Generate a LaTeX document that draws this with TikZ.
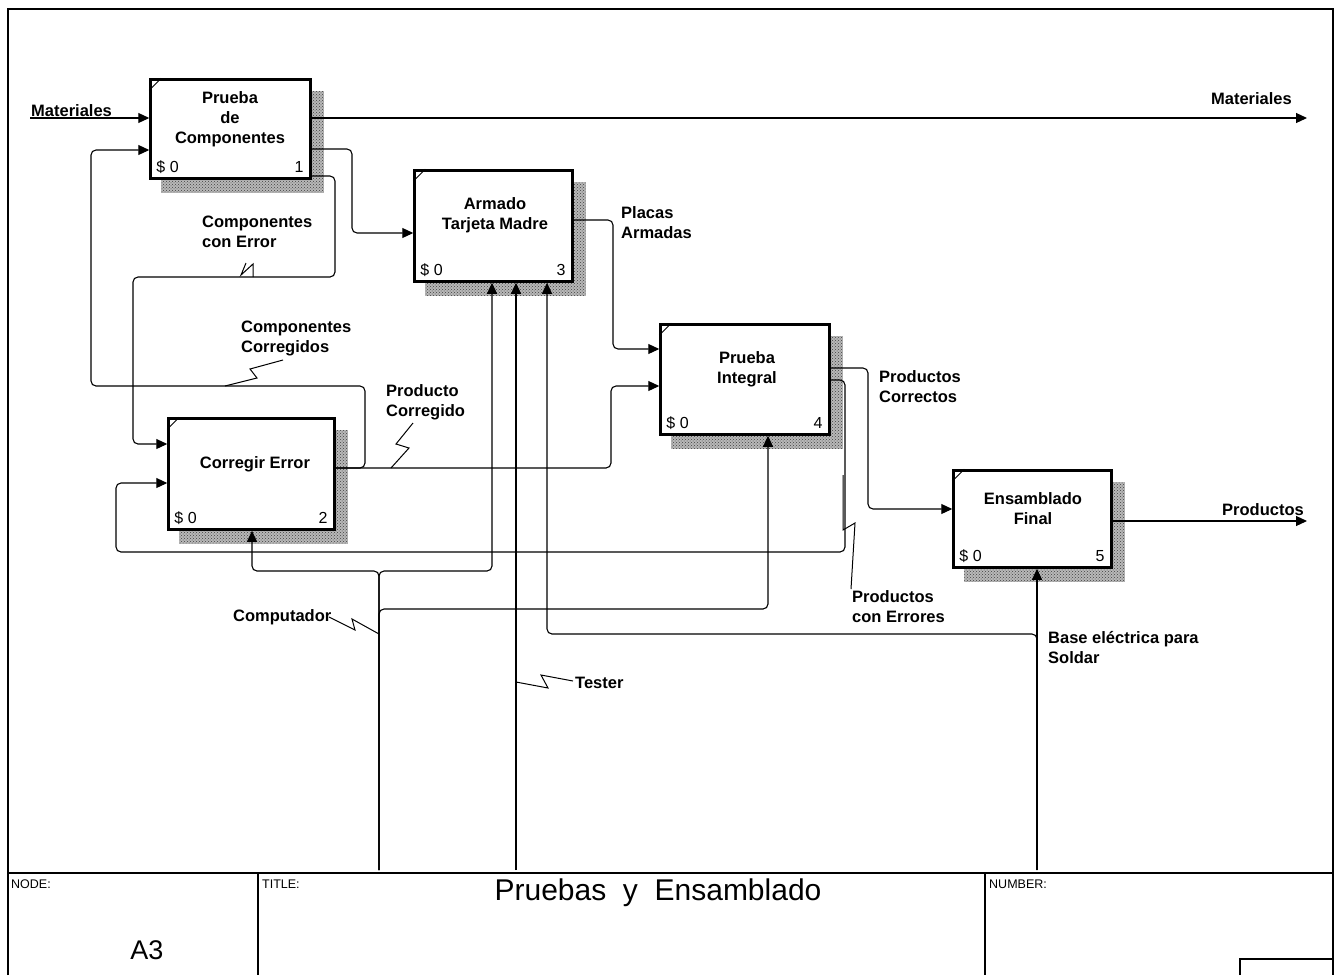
\documentclass[tikz,border=0pt]{standalone}
\usepackage{fontspec}
\setmainfont{Liberation Sans}
\usetikzlibrary{arrows.meta,patterns,backgrounds}

\begin{document}
\begin{tikzpicture}[x=1pt,y=-1pt,
  proc/.style={draw, line width=2.5pt, fill=white, inner sep=0pt},
  ptitle/.style={font=\fontsize{16.5}{20}\selectfont\bfseries, align=center, inner sep=0pt, anchor=north},
  lbl/.style={font=\fontsize{16.5}{20}\selectfont\bfseries, align=left, inner sep=0pt},
  cost/.style={font=\fontsize{16}{16}\selectfont, inner sep=0pt},
  flow/.style={line width=1.1pt, rounded corners=5pt},
  arr/.style={flow, -{Triangle[length=11pt,width=10pt]}},
  squig/.style={line width=1pt},
  shadebase/.style={fill=black!28},
  shade/.style={pattern=crosshatch dots, pattern color=black!75},
  frame/.style={line width=1.4pt},
  ftsmall/.style={font=\fontsize{12.5}{14}\selectfont, inner sep=0pt}]

\useasboundingbox (0,0) rectangle (1340,975);

% activity boxes
\node[proc, minimum width=160pt, minimum height=99pt] (b1) at (230.5,129) {};
\node[proc, minimum width=158pt, minimum height=111pt] (b2) at (493.5,226) {};
\node[proc, minimum width=166pt, minimum height=111pt] (b3) at (251.5,474) {};
\node[proc, minimum width=169pt, minimum height=110pt] (b4) at (745,379.5) {};
\node[proc, minimum width=158pt, minimum height=97pt] (b5) at (1032.5,519) {};

% page background and hatched box shadows
\begin{scope}[on background layer]
  \fill[white] (0,0) rectangle (1340,975);
  \foreach \b in {b1,b2,b3,b4,b5} {
    \fill[shadebase] ([shift={(12,13)}]\b.north west) rectangle ([shift={(12,13)}]\b.south east);
    \fill[shade] ([shift={(12,13)}]\b.north west) rectangle ([shift={(12,13)}]\b.south east);
  }
\end{scope}

% corner ticks, cost and box numbers
\foreach \b/\n in {b1/1,b2/3,b3/2,b4/4,b5/5} {
  \draw[line width=1pt] ([shift={(0,12)}]\b.north west) -- ([shift={(12,0)}]\b.north west);
  \node[cost, anchor=base west] (\b c) at ([shift={(7,-7)}]\b.south west) {\$ 0};
  \node[cost, anchor=base east] (\b n) at ([shift={(-8,-7)}]\b.south east) {\n};
}

% box titles
\node[ptitle] (t1) at (230,91) {Prueba\\de\\Componentes};
\node[ptitle] (t2) at (495,197) {Armado\\Tarjeta Madre};
\node[ptitle] (t3) at (255,456) {Corregir Error};
\node[ptitle] (t4) at (747,351) {Prueba\\Integral};
\node[ptitle] (t5) at (1033,492) {Ensamblado\\Final};

% arrow labels
\node[lbl, anchor=base west] (matL) at (31,116) {Materiales};
\node[lbl, anchor=base east] (matR) at (1292,104) {Materiales};
\node[lbl, anchor=north west] (ceL) at (202,216) {Componentes\\con Error};
\node[lbl, anchor=north west] (ccL) at (241,321) {Componentes\\Corregidos};
\node[lbl, anchor=north west] (pcL) at (386,384) {Producto\\Corregido};
\node[lbl, anchor=north west] (paL) at (621,206) {Placas\\Armadas};
\node[lbl, anchor=north west] (pkL) at (879,370) {Productos\\Correctos};
\node[lbl, anchor=north west] (peL) at (852,590) {Productos\\con Errores};
\node[lbl, anchor=base west] (prL) at (1222,515) {Productos};
\node[lbl, anchor=base west] (cpL) at (233,621) {Computador};
\node[lbl, anchor=base west] (tsL) at (575,688) {Tester};
\node[lbl, anchor=north west] (beL) at (1048,631) {Base eléctrica para\\Soldar};

% free ends of boundary arrows
\coordinate (matIn) at (30,118);
\coordinate (matOut) at (1307,118);
\coordinate (prOut) at (1307,521);
\coordinate (cpIn) at (379,870);
\coordinate (tsIn) at (516,870);
\coordinate (bsIn) at (1037,870);

% inputs and outputs
\draw[arr] (matIn) -- (b1.west |- matIn);
\draw[arr] (b1.east |- matOut) -- (matOut);
\draw[arr] (b1.east |- 0,149) -- (352,149) -- (352,233) -- (b2.west |- 0,233);
\draw[arr] (b1.east |- 0,176) -- (335,176) -- (335,277) -- (133,277) -- (133,444) -- (b3.west |- 0,444);
\draw[arr] (b3.east |- 0,468) -- (365,468) -- (365,386) -- (91,386) -- (91,150) -- (b1.west |- 0,150);
\draw[arr] (b3.east |- 0,468) -- (611,468) -- (611,386) -- (b4.west |- 0,386);
\draw[arr] (b2.east |- 0,220) -- (613,220) -- (613,349) -- (b4.west |- 0,349);
\draw[arr] (b4.east |- 0,368) -- (868,368) -- (868,509) -- (b5.west |- 0,509);
\draw[arr] (b4.east |- 0,380) -- (845,380) -- (845,552) -- (116,552) -- (116,483) -- (b3.west |- 0,483);
\draw[arr] (b5.east |- prOut) -- (prOut);

% mechanisms
\draw[arr] (cpIn) -- (379,571) -- (252,571) -- (b3.south -| 252,0);
\draw[arr] (cpIn) -- (379,571) -- (492,571) -- (b2.south -| 492,0);
\draw[arr] (cpIn) -- (379,609) -- (768,609) -- (b4.south -| 768,0);
\draw[arr] (tsIn) -- (b2.south -| tsIn);
\draw[arr] (bsIn) -- (b5.south -| bsIn);
\draw[arr] (bsIn) -- (1037,634) -- (547,634) -- (b2.south -| 547,0);

% label squiggles
\draw[squig] (253,277) -- (253,264) -- (241,275) -- (246,263);
\draw[squig] (225,386) -- (257,378) -- (250,369) -- (283,360);
\draw[squig] (391,468) -- (409,448) -- (396,444) -- (413,423);
\draw[squig] (851,589) -- (855,523) -- (843,530) -- (843,475);
\draw[squig] (329,617) -- (355,630) -- (352,619) -- (379,634);
\draw[squig] (516,682) -- (548,688) -- (541,675) -- (573,681);

% sheet frame and title block
\draw[frame] (8,975) -- (8,9) -- (1333,9) -- (1333,975);
\draw[frame] (8,873) -- (1333,873);
\draw[frame] (258,873) -- (258,975);
\draw[frame] (985,873) -- (985,975);
\draw[line width=1.2pt] (1240,975) -- (1240,959) -- (1333,959);
\node[ftsmall, anchor=north west] (nodeL) at (11,880) {NODE:};
\node[ftsmall, anchor=north west] (titleL) at (262,880) {TITLE:};
\node[ftsmall, anchor=north west] (numL) at (989,880) {NUMBER:};
\node[font=\fontsize{27}{30}\selectfont, inner sep=0pt] (nodeV) at (147,950) {A3};
\node[font=\fontsize{30}{32}\selectfont, inner sep=0pt] (titleV) at (658,893) {Pruebas\ \ y\ \ Ensamblado};
\end{tikzpicture}
\end{document}
